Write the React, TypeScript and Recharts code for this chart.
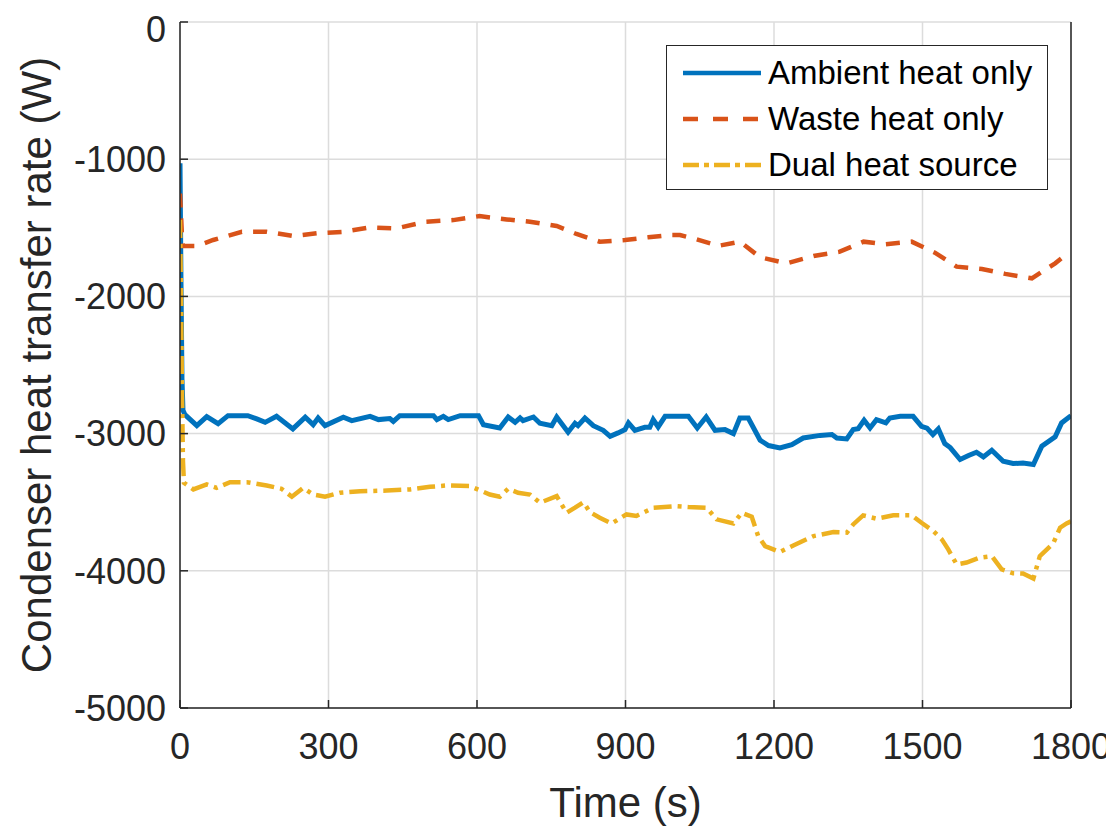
import React from "react";
import { LineChart, Line, XAxis, YAxis, CartesianGrid } from "recharts";

const timeTicks = [0, 300, 600, 900, 1200, 1500, 1800];
const rateTicks = [-5000, -4000, -3000, -2000, -1000, 0];

const ambientTime = [0, 2, 4, 6, 10, 34, 54, 77, 97, 137, 155, 172, 195, 228, 253, 269, 279, 293, 330, 347, 384, 401, 424, 431, 444, 512, 519, 532, 542, 566, 603, 613, 646, 663, 677, 687, 693, 714, 727, 751, 761, 784, 798, 804, 818, 835, 855, 869, 885, 899, 906, 919, 939, 949, 956, 966, 980, 1027, 1045, 1063, 1081, 1101, 1118, 1131, 1148, 1172, 1189, 1212, 1236, 1259, 1293, 1317, 1327, 1347, 1360, 1370, 1382, 1394, 1407, 1426, 1434, 1455, 1481, 1498, 1509, 1521, 1532, 1545, 1556, 1576, 1593, 1609, 1623, 1640, 1663, 1683, 1703, 1724, 1741, 1768, 1781, 1800];
const ambientRate = [-1030, -1900, -2600, -2830, -2862, -2942, -2876, -2927, -2869, -2869, -2893, -2918, -2874, -2966, -2881, -2935, -2886, -2942, -2881, -2905, -2874, -2898, -2890, -2911, -2869, -2869, -2898, -2874, -2898, -2869, -2869, -2935, -2959, -2879, -2918, -2886, -2905, -2879, -2925, -2942, -2879, -2990, -2925, -2942, -2886, -2942, -2976, -3020, -2995, -2971, -2922, -2976, -2954, -2954, -2898, -2951, -2874, -2874, -2959, -2879, -2976, -2971, -3000, -2886, -2886, -3048, -3087, -3105, -3080, -3032, -3013, -3007, -3032, -3039, -2971, -2965, -2903, -2959, -2898, -2922, -2886, -2874, -2874, -2947, -2960, -3007, -2966, -3073, -3102, -3189, -3160, -3136, -3170, -3121, -3201, -3218, -3215, -3225, -3092, -3024, -2922, -2869];

const wasteTime = [0, 2, 4, 6, 34, 67, 125, 175, 229, 276, 330, 384, 438, 495, 552, 605, 660, 707, 761, 801, 848, 899, 946, 990, 1010, 1044, 1088, 1131, 1172, 1226, 1280, 1333, 1381, 1424, 1478, 1525, 1569, 1620, 1667, 1721, 1768, 1781, 1800];
const wasteRate = [-1250, -1400, -1560, -1633, -1633, -1589, -1529, -1529, -1560, -1540, -1529, -1497, -1504, -1456, -1444, -1415, -1439, -1456, -1487, -1545, -1601, -1589, -1569, -1553, -1553, -1584, -1631, -1601, -1715, -1759, -1705, -1674, -1601, -1620, -1601, -1681, -1783, -1800, -1836, -1868, -1759, -1722, -1690];

const dualTime = [0, 2, 4, 6, 8, 27, 54, 74, 101, 135, 175, 205, 226, 249, 269, 293, 323, 364, 418, 465, 505, 539, 586, 626, 646, 663, 683, 707, 727, 761, 781, 798, 815, 828, 848, 872, 902, 922, 956, 1003, 1027, 1064, 1084, 1118, 1135, 1155, 1168, 1182, 1212, 1239, 1280, 1320, 1347, 1360, 1380, 1407, 1441, 1478, 1498, 1522, 1539, 1552, 1569, 1589, 1616, 1640, 1660, 1683, 1703, 1724, 1737, 1764, 1778, 1791, 1800];
const dualRate = [-1444, -2000, -2700, -3200, -3359, -3407, -3371, -3395, -3354, -3354, -3378, -3402, -3460, -3395, -3444, -3460, -3431, -3420, -3415, -3407, -3388, -3378, -3383, -3444, -3460, -3402, -3431, -3444, -3504, -3456, -3577, -3540, -3500, -3572, -3613, -3655, -3589, -3600, -3541, -3529, -3535, -3541, -3625, -3655, -3577, -3606, -3747, -3820, -3863, -3815, -3747, -3718, -3722, -3662, -3596, -3620, -3596, -3596, -3650, -3711, -3771, -3844, -3953, -3940, -3904, -3893, -3989, -4018, -4020, -4057, -3893, -3800, -3686, -3655, -3640];

const seriesNames = ["Ambient heat only", "Waste heat only", "Dual heat source"];

const toRows = (ts: number[], vs: number[]) => ts.map((t, i) => ({ t, v: vs[i] }));
const ambientData = toRows(ambientTime, ambientRate);
const wasteData = toRows(wasteTime, wasteRate);
const dualData = toRows(dualTime, dualRate);

const font = "'Liberation Sans', Arial, sans-serif";
const ink = "#262626";
const colors = ["#0072BD", "#D95319", "#EDB120"];
const dashes = [undefined, "14 11", "18 6 4 6"];
const legendDashes = [undefined, "15 15", "16 5 5 5"];

// legend drawn as an overlay so it doesn't eat plot space
function LegendBox() {
  return (
    <div
      style={{
        position: "absolute",
        left: 658,
        top: 37,
        width: 382,
        height: 145,
        boxSizing: "border-box",
        border: `1.5px solid ${ink}`,
        background: "#fff",
        fontFamily: font,
        fontSize: 33,
        color: "#000",
        paddingTop: 4,
      }}
    >
      {seriesNames.map((name, i) => (
        <div key={name} style={{ display: "flex", alignItems: "center", height: 46 }}>
          <svg width={101} height={20} style={{ flex: "none" }}>
            <line x1={16} x2={94} y1={10} y2={10} stroke={colors[i]} strokeWidth={4.5} strokeDasharray={legendDashes[i]} />
          </svg>
          <span style={{ whiteSpace: "nowrap" }}>{name}</span>
        </div>
      ))}
    </div>
  );
}

export default function App() {
  const tickStyle = { fontSize: 36, fill: ink, fontFamily: font };
  const axisStroke = { stroke: ink, strokeWidth: 1.5 };
  return (
    <div style={{ width: 1106, height: 819, position: "relative" }}>
      <LineChart width={1106} height={819} margin={{ top: 14, right: 42, bottom: 28, left: 72 }}>
        <CartesianGrid stroke="#dcdcdc" strokeWidth={1.5} />
        <XAxis
          dataKey="t"
          type="number"
          domain={[0, 1800]}
          ticks={timeTicks}
          allowDataOverflow
          height={91}
          tick={tickStyle}
          tickSize={-8}
          tickMargin={33}
          axisLine={axisStroke}
          tickLine={axisStroke}
          label={(props: any) => {
            const vb = props.viewBox || {};
            const cx = (vb.x ?? 172) + (vb.width ?? 891) / 2;
            return (
              <text x={cx} y={809} textAnchor="middle" fontSize={42} fill={ink} fontFamily={font}>
                Time (s)
              </text>
            );
          }}
        />
        <XAxis
          xAxisId="top"
          orientation="top"
          type="number"
          domain={[0, 1800]}
          ticks={timeTicks}
          height={0}
          tick={false}
          tickSize={-8}
          axisLine={axisStroke}
          tickLine={axisStroke}
        />
        <YAxis
          type="number"
          domain={[-5000, 0]}
          ticks={rateTicks}
          allowDataOverflow
          width={100}
          tick={tickStyle}
          tickSize={-8}
          tickMargin={22}
          axisLine={axisStroke}
          tickLine={axisStroke}
          label={(props: any) => {
            const vb = props.viewBox || {};
            const cy = (vb.y ?? 14) + (vb.height ?? 686) / 2;
            return (
              <text
                x={28}
                y={cy}
                transform={`rotate(-90, 28, ${cy})`}
                textAnchor="middle"
                dominantBaseline="central"
                fontSize={42}
                fill={ink}
                fontFamily={font}
              >
                Condenser heat transfer rate (W)
              </text>
            );
          }}
        />
        <YAxis
          yAxisId="right"
          orientation="right"
          type="number"
          domain={[-5000, 0]}
          ticks={rateTicks}
          width={1}
          tick={false}
          tickSize={-8}
          axisLine={axisStroke}
          tickLine={axisStroke}
        />
        <Line data={ambientData} dataKey="v" name={seriesNames[0]} type="linear" stroke={colors[0]} strokeWidth={5} dot={false} isAnimationActive={false} />
        <Line data={wasteData} dataKey="v" name={seriesNames[1]} type="linear" stroke={colors[1]} strokeWidth={4.5} strokeDasharray={dashes[1]} dot={false} isAnimationActive={false} />
        <Line data={dualData} dataKey="v" name={seriesNames[2]} type="linear" stroke={colors[2]} strokeWidth={4.5} strokeDasharray={dashes[2]} dot={false} isAnimationActive={false} />
      </LineChart>
      <LegendBox />
    </div>
  );
}
